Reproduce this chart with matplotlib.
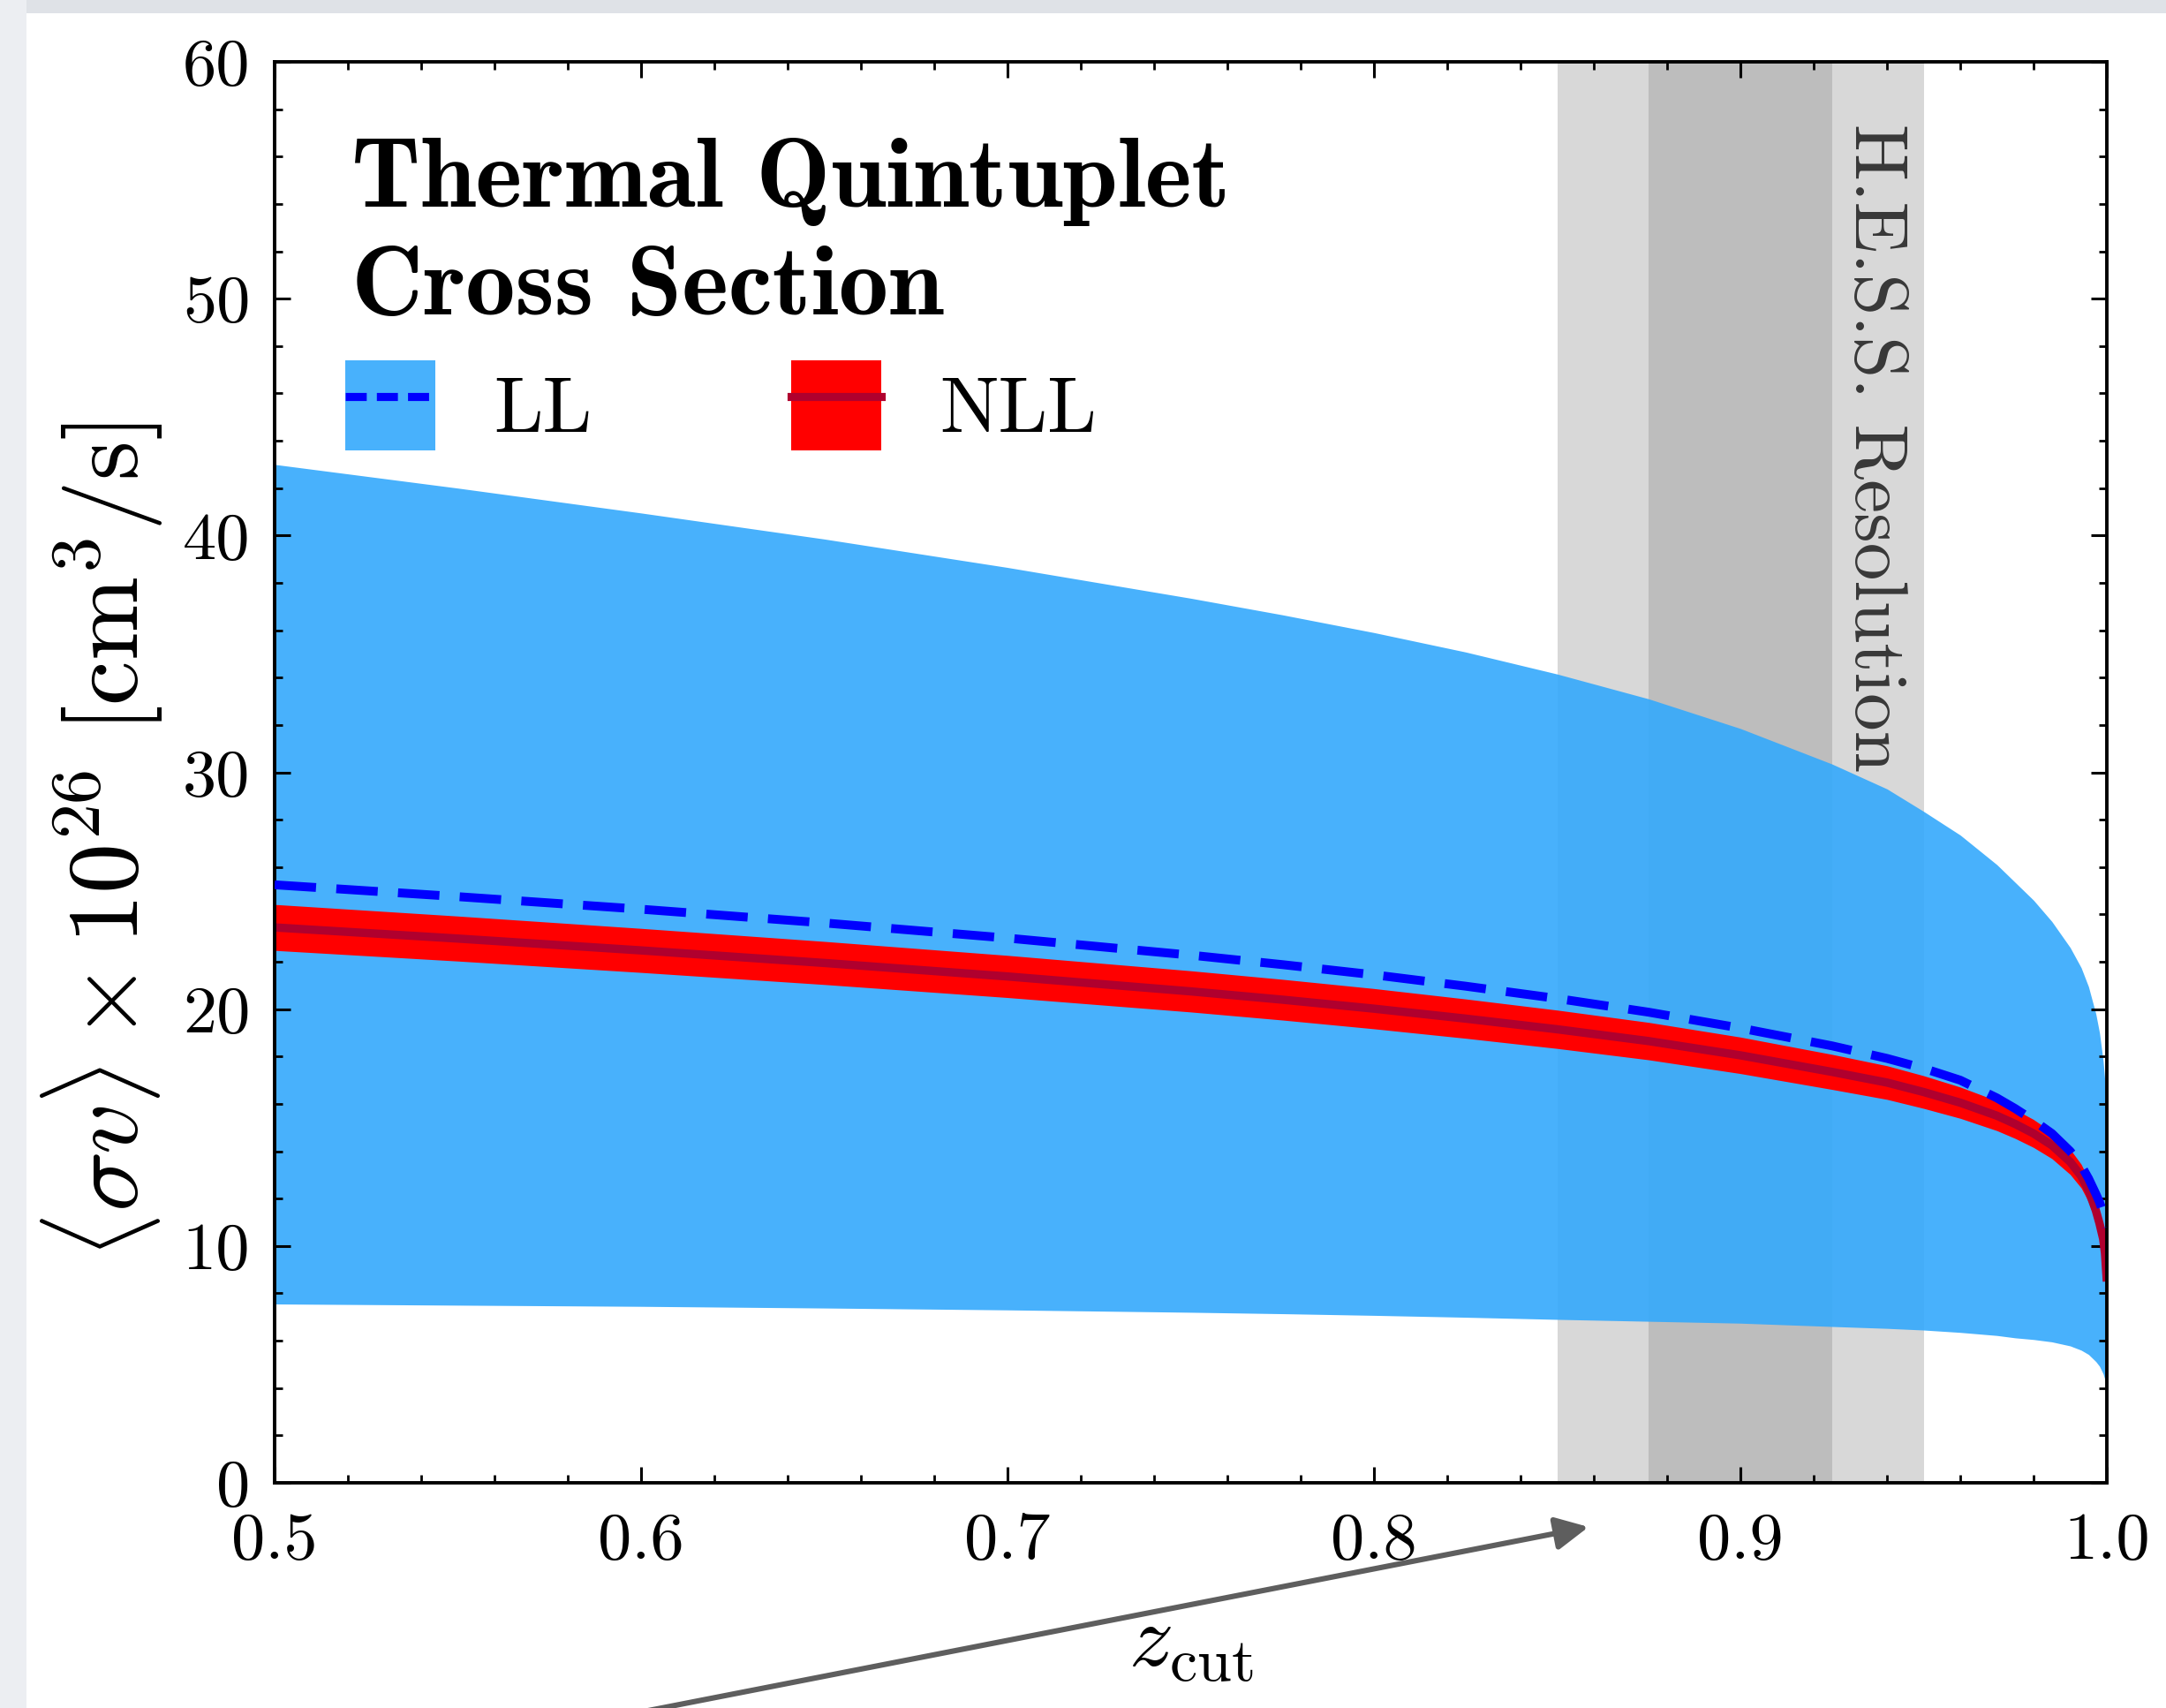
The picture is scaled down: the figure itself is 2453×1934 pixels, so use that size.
import numpy as np
import matplotlib
matplotlib.use("Agg")
import matplotlib.pyplot as plt
from matplotlib.patches import Patch, Rectangle, FancyArrowPatch
from matplotlib.lines import Line2D
from matplotlib.legend_handler import HandlerTuple
from matplotlib.ticker import MultipleLocator

plt.rcParams.update({
    "font.family": "serif",
    "font.serif": ["cmr10"],
    "mathtext.fontset": "cm",
    "axes.formatter.use_mathtext": True,
    "axes.unicode_minus": False,
})

# ---- data -------------------------------------------------------------
z_cut = [0.50, 0.55, 0.60, 0.65, 0.70, 0.75, 0.775, 0.80, 0.825, 0.85,
         0.875, 0.90, 0.925, 0.94, 0.95, 0.96, 0.97, 0.975, 0.98, 0.985,
         0.99, 0.993, 0.995, 0.997, 0.998, 0.999, 0.9995, 1.0]

ll_upper = [43.0, 42.0, 40.95, 39.85, 38.65, 37.35, 36.65, 35.9, 35.08,
            34.15, 33.1, 31.85, 30.35, 29.3, 28.35, 27.35, 26.1, 25.35,
            24.6, 23.7, 22.6, 21.75, 20.95, 19.8, 19.0, 17.8, 16.9, 15.8]
ll_lower = [7.55, 7.5, 7.45, 7.38, 7.3, 7.2, 7.14, 7.07, 6.99, 6.9, 6.82,
            6.74, 6.6, 6.52, 6.45, 6.35, 6.22, 6.12, 6.05, 5.95, 5.78, 5.6,
            5.42, 5.12, 4.92, 4.6, 4.35, 4.05]
ll_central = [25.25, 24.75, 24.22, 23.64, 23.0, 22.28, 21.88, 21.45, 20.97,
              20.45, 19.87, 19.2, 18.45, 17.92, 17.5, 17.0, 16.25, 15.8,
              15.3, 14.75, 14.0, 13.4, 12.85, 12.2, 11.85, 11.4, 11.1, 10.8]

nll_central = [23.45, 22.98, 22.48, 21.95, 21.38, 20.75, 20.4, 20.02, 19.6,
               19.15, 18.65, 18.05, 17.35, 16.9, 16.5, 16.05, 15.5, 15.15,
               14.75, 14.25, 13.55, 12.95, 12.35, 11.5, 10.95, 10.3, 9.7, 8.5]
nll_upper = [24.42, 23.93, 23.41, 22.86, 22.27, 21.62, 21.26, 20.87, 20.43,
             19.96, 19.44, 18.82, 18.09, 17.61, 17.19, 16.71, 16.13, 15.76,
             15.34, 14.81, 14.08, 13.45, 12.83, 11.95, 11.38, 10.72, 10.11,
             8.9]
nll_lower = [22.48, 22.03, 21.55, 21.04, 20.49, 19.88, 19.54, 19.17, 18.77,
             18.34, 17.86, 17.28, 16.61, 16.19, 15.81, 15.39, 14.87, 14.54,
             14.16, 13.69, 13.02, 12.45, 11.87, 11.05, 10.52, 9.88, 9.29, 8.1]

hess_outer = (0.85, 0.95)
hess_inner = (0.875, 0.925)

# ---- styling ----------------------------------------------------------
LL_FILL = (52 / 255, 169 / 255, 252 / 255)
LL_ALPHA = 0.9
LL_LINE = "#0000ff"
NLL_FILL = "#ff0000"
NLL_LINE = "#b0002e"

W, H = 2453, 1934
DPI = 200
fig = plt.figure(figsize=(W / DPI, H / DPI), dpi=DPI, facecolor="white")

# light frame strips along the top and left edges
fig.add_artist(Rectangle((0, 1 - 15 / H), 1, 15 / H, transform=fig.transFigure,
                         facecolor="#dfe2e7", edgecolor="none", zorder=0))
fig.add_artist(Rectangle((0, 0), 30 / W, 1, transform=fig.transFigure,
                         facecolor="#eceef2", edgecolor="none", zorder=0))

ax = fig.add_axes([311 / W, 1 - 1679 / H, (2386 - 311) / W, (1679 - 70) / H])

# resolution bands
ax.axvspan(*hess_outer, color="#d8d8d8", lw=0, zorder=0.5)
ax.axvspan(*hess_inner, color="#bdbdbd", lw=0, zorder=0.6)
ax.text(0.9366, 57.4, "H.E.S.S. Resolution", rotation=270, ha="center",
        va="top", color="#383838", fontsize=30.7, zorder=0.8)

# LL band
ax.fill_between(z_cut, ll_lower, ll_upper, color=LL_FILL, alpha=LL_ALPHA,
                lw=0, zorder=1)
# NLL band and central curve
ax.fill_between(z_cut, nll_lower, nll_upper, color=NLL_FILL, lw=0, zorder=2)
ax.plot(z_cut, nll_central, color=NLL_LINE, lw=3.4, zorder=2.5,
        solid_capstyle="butt", solid_joinstyle="round")
# LL central curve
ax.plot(z_cut, ll_central, color=LL_LINE, lw=3.6, dashes=(4.7, 2.3),
        zorder=3)

ax.set_xlim(0.5, 1.0)
ax.set_ylim(0, 60)
ax.xaxis.set_major_locator(MultipleLocator(0.1))
ax.xaxis.set_minor_locator(MultipleLocator(0.02))
ax.yaxis.set_major_locator(MultipleLocator(10))
ax.yaxis.set_minor_locator(MultipleLocator(2))
ax.xaxis.set_major_formatter(plt.FuncFormatter(lambda v, p: f"{v:.1f}"))
ax.yaxis.set_major_formatter(plt.FuncFormatter(lambda v, p: f"{v:.0f}"))
ax.tick_params(which="both", direction="in", top=True, right=True,
               labelsize=27.5, color="black")
ax.tick_params(which="major", length=6.5, width=1.1)
ax.tick_params(which="minor", length=3.2, width=1.0)
ax.tick_params(axis="x", pad=12)
ax.tick_params(axis="y", pad=10)
for s in ax.spines.values():
    s.set_linewidth(1.4)

ax.set_xlabel(r"$z_{\rm cut}$", fontsize=36, va="center")
ax.xaxis.set_label_coords(0.5, -0.114)
ax.set_ylabel(r"$\langle\sigma v\rangle \times 10^{26}\ [\mathrm{cm}^3/\mathrm{s}]$",
              fontsize=41, va="center")
ax.yaxis.set_label_coords(-0.094, 0.452)

# heading
ax.text(0.042, 0.898, "Thermal Quintuplet", transform=ax.transAxes,
        fontname="cmb10", fontsize=40.5, va="baseline", ha="left")
ax.text(0.042, 0.822, "Cross Section", transform=ax.transAxes,
        fontname="cmb10", fontsize=40.5, va="baseline", ha="left")

# legend: band patch with its central curve drawn on top
ll_handle = (Patch(facecolor=LL_FILL, alpha=LL_ALPHA, edgecolor="none"),
             Line2D([], [], color=LL_LINE, lw=3.3, dashes=(2.6, 1.25)))
nll_handle = (Patch(facecolor=NLL_FILL, edgecolor="none"),
              Line2D([], [], color=NLL_LINE, lw=3.3))
ax.legend([ll_handle, nll_handle], ["LL", "NLL"], ncol=2,
          handler_map={tuple: HandlerTuple(ndivide=1, pad=0)},
          loc="center left", bbox_to_anchor=(0.0385, 0.758),
          frameon=False, borderpad=0, borderaxespad=0, fontsize=32,
          handlelength=1.147, handleheight=1.388, handletextpad=0.75,
          columnspacing=2.53)

# arrow pointing toward the resolution band
arrow = FancyArrowPatch((437 / W, 1 - 1995 / H), (1799 / W, 1 - 1729 / H),
                        transform=fig.transFigure, arrowstyle="-|>",
                        mutation_scale=28, color="#5e5e5e", lw=2.2,
                        shrinkA=0, shrinkB=0, zorder=5)
fig.add_artist(arrow)

fig.savefig("out.png", dpi=DPI, facecolor="white")
